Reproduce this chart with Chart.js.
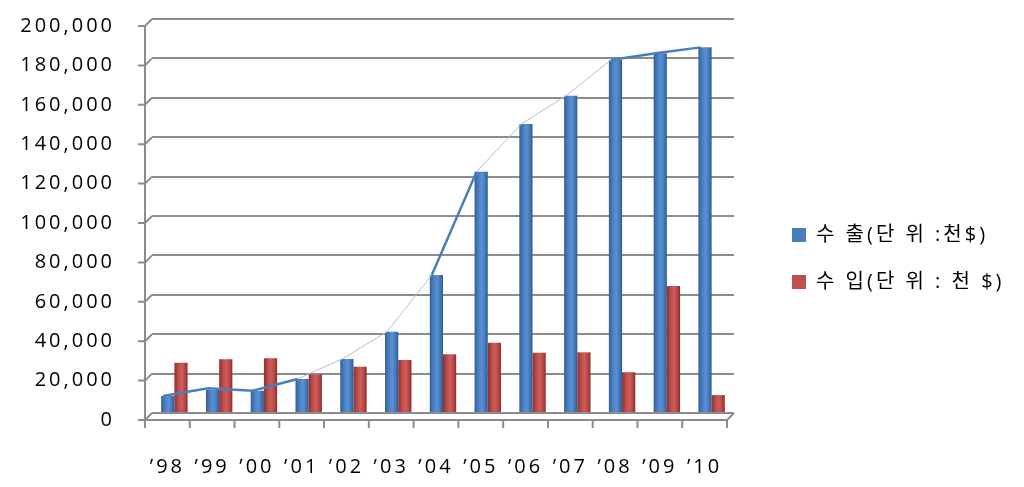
<!DOCTYPE html>
<html><head><meta charset="utf-8">
<script src="https://cdn.jsdelivr.net/npm/chart.js@4"></script>
<style>html,body{margin:0;padding:0;background:#fff}#wrap{width:1024px;height:487px}</style>
</head><body><div id="wrap"><canvas id="c"></canvas></div>
<script>
// ---- data ----
const years = ["’98","’99","’00","’01","’02","’03","’04","’05","’06","’07","’08","’09","’10"];
const exportVals = [8600, 11700, 11300, 17300, 27400, 41300, 70000, 122500, 146700, 161100, 179200, 182600, 185600];
const importVals = [25500, 27300, 27800, 19600, 23500, 26900, 29800, 35700, 30600, 30800, 20700, 64500, 9100];
const trendVals  = [8600, 12600, 11300, 17300, 27400, 41300, 70000, 122500, 146700, 161100, 179200, 182600, 185600];
const seriesNames = ["수 출(단 위 :천$)", "수 입(단 위 : 천 $)"];
const yMin = 0, yMax = 200000, yStep = 20000;

// ---- style ----
const D = 7;                       // 3D depth offset (px)
const AXIS = '#8c8c8c';
const FONT = "'Open Sans','Noto Sans CJK KR',sans-serif";
const thickSeg = [0,1,2,6,10,11];
const catPct = 0.59;
const lineShift = -0.25;
const Y_AXIS_W = 152, X_AXIS_H = 74, GAP_W = 31, LEGEND_W = 255;

const spacing = {
  id:'spacing',
  beforeUpdate(c){ c.ctx.letterSpacing='3px'; },
  beforeDraw(c){ c.ctx.letterSpacing='3px'; },
  beforeLayout(c){
    const lg = c.legend;
    if (lg && !lg._fixedW) {
      const f = lg.fit.bind(lg);
      lg.fit = function(){ f(); this.width = LEGEND_W; };
      lg._fixedW = true;
    }
  }
};

const frontAxes = {
  id:'frontAxes',
  beforeDatasetsDraw(chart){
    const {ctx, chartArea:a, scales:{y}} = chart;
    const n = years.length, w = (a.right - a.left) / n;
    ctx.save();
    ctx.strokeStyle = AXIS; ctx.lineWidth = 2;
    ctx.beginPath();
    ctx.moveTo(a.left - D, y.getPixelForValue(yMax) + D);
    ctx.lineTo(a.left - D, a.bottom + D);
    ctx.lineTo(a.right - D, a.bottom + D);
    ctx.lineTo(a.right, a.bottom);
    y.ticks.forEach(t => {
      const py = y.getPixelForValue(t.value);
      ctx.moveTo(a.left - D - 7, py + D);
      ctx.lineTo(a.left - D, py + D);
      ctx.lineTo(a.left, py);
    });
    for (let i = 0; i <= n; i++) {
      const px = a.left + i * w - D;
      ctx.moveTo(px, a.bottom + D);
      ctx.lineTo(px, a.bottom + D + 8);
    }
    ctx.stroke();
    ctx.restore();
  }
};

function barFill(stops, side, solid){
  return (c) => {
    const ch = c.chart, a = ch.chartArea, x = ch.scales.x;
    if (!a || !x || c.dataIndex === undefined) return solid;
    const w = (a.right - a.left) / years.length * catPct / 2;
    const cx = x.getPixelForValue(c.dataIndex) + side * w / 2;
    const g = ch.ctx.createLinearGradient(cx - w/2, 0, cx + w/2, 0);
    stops.forEach(([p, col]) => g.addColorStop(p, col));
    return g;
  };
}
const blueStops = [[0,'#2f5f98'],[0.3,'#4a80c2'],[0.55,'#5a91d4'],[0.8,'#4479b8'],[1,'#2c5a91']];
const redStops  = [[0,'#8f302d'],[0.3,'#bd4d4a'],[0.55,'#cc5d5a'],[0.8,'#b54643'],[1,'#8a2e2b']];

new Chart(document.getElementById('c'), {
  data: {
    datasets: [
      { type:'line', label:'trend', data: trendVals.map((v,i)=>({x:i+lineShift, y:v})),
        borderColor:'#4a7ebb', borderWidth:2.5, pointRadius:0, tension:0, order:0,
        segment:{
          borderWidth: s => thickSeg.includes(s.p0DataIndex) ? 2.5 : 1,
          borderColor: s => thickSeg.includes(s.p0DataIndex) ? '#4a7ebb' : '#a9c0e0'
        } },
      { type:'bar', label: seriesNames[0], data: exportVals.map((v,i)=>({x:i, y:v})),
        backgroundColor: barFill(blueStops, -1, '#4a7ebb'), borderWidth:0,
        categoryPercentage:catPct, barPercentage:1, order:1 },
      { type:'bar', label: seriesNames[1], data: importVals.map((v,i)=>({x:i, y:v})),
        backgroundColor: barFill(redStops, 1, '#c0504d'), borderWidth:0,
        categoryPercentage:catPct, barPercentage:1, order:1 }
    ]
  },
  options: {
    responsive:true, maintainAspectRatio:false, animation:false,
    layout:{ padding:{ top:19, left:0, right:4, bottom:0 } },
    plugins:{
      tooltip:{enabled:false},
      legend:{
        position:'right', align:'center',
        title:{ display:true, text:' ', font:{size:1, lineHeight:'11px'}, padding:0 },
        labels:{ boxWidth:14, boxHeight:14, padding:27, color:'#000',
          generateLabels: ch => ch.data.datasets.slice(1).map((ds, i) => ({
            text: ds.label, fillStyle: i === 0 ? '#4a7ebb' : '#c0504d', strokeStyle: 'rgba(0,0,0,0)',
            lineWidth: 0, hidden: false, datasetIndex: i + 1, fontColor:'#000' })),
          font:{ family:FONT, size:20 } }
      }
    },
    scales:{
      x:{ type:'linear', min:-0.5, max:years.length-0.5, offset:false,
        grid:{display:false, drawTicks:false, offset:false}, border:{display:false},
        afterBuildTicks: s => { s.ticks = years.map((_, i) => ({ value: i })); },
        ticks:{ autoSkip:false, color:'#000', font:{family:FONT, size:20},
          padding:42, labelOffset:-D, maxRotation:0, callback: v => years[Math.round(v)] ?? '' },
        afterFit: s => { s.height = X_AXIS_H; s.paddingLeft = 0; s.paddingRight = 0; } },
      y:{ min:yMin, max:yMax,
        grid:{ color:AXIS, lineWidth:2, drawTicks:false }, border:{display:false},
        ticks:{ stepSize:yStep, color:'#000', font:{family:FONT, size:20}, padding:37, labelOffset:D,
          callback: v => v.toLocaleString('en-US') },
        afterFit: s => { s.width = Y_AXIS_W; s.paddingTop = 0; s.paddingBottom = 0; } },
      gap:{ type:'linear', position:'right', display:true, grid:{display:false}, border:{display:false},
        ticks:{display:false}, afterFit: s => { s.width = GAP_W; s.paddingTop = 0; s.paddingBottom = 0; } }
    }
  },
  plugins:[spacing, frontAxes]
});
</script></body></html>
